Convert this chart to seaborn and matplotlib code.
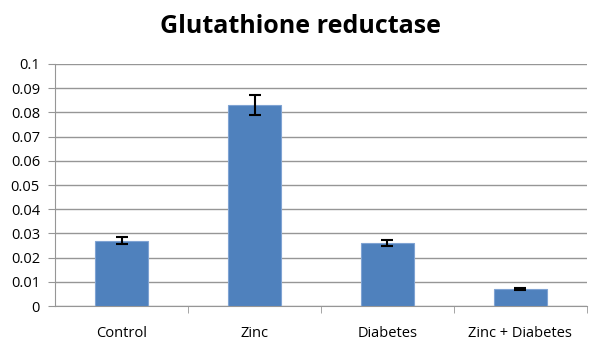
import matplotlib
matplotlib.use("Agg")
import matplotlib.pyplot as plt
import seaborn as sns
import pandas as pd

groups = ["Control", "Zinc", "Diabetes", "Zinc + Diabetes"]
activity = [0.027, 0.083, 0.026, 0.007]
sem = [0.0015, 0.0043, 0.0013, 0.0003]

sns.set_style("white")
plt.rcParams["font.family"] = ["Open Sans", "DejaVu Sans"]
plt.rcParams["text.color"] = "black"
plt.rcParams["xtick.labelcolor"] = "black"
plt.rcParams["ytick.labelcolor"] = "black"

df = pd.DataFrame({"group": groups, "value": activity})

fig = plt.figure(figsize=(6, 3.61), dpi=100)
ax = fig.add_axes([0.092, 0.152, 0.886, 0.671])

sns.barplot(data=df, x="group", y="value", color="#4F81BD", saturation=1, width=0.4,
            edgecolor="#7FA3D3", linewidth=0.8, errorbar=None, ax=ax, zorder=3)
ax.errorbar(range(len(groups)), activity, yerr=sem, fmt="none", ecolor="black",
            elinewidth=1.5, capsize=4, capthick=1.5, zorder=4)

ax.set_ylim(0, 0.1)
ax.set_yticks([i / 100 for i in range(11)])
ax.set_yticklabels(["0"] + [f"{i/100:g}" for i in range(1, 11)], fontsize=10.5)
ax.yaxis.grid(True, color="#969696", linewidth=1, zorder=0)
ax.set_axisbelow(True)
ax.set_xlim(-0.5, 3.5)
ax.set_xticks(range(len(groups)))
ax.set_xticklabels(groups, fontsize=10.5)
ax.tick_params(axis="x", length=0, pad=14)
ax.tick_params(axis="y", length=5, color="#969696", direction="out", left=True, pad=6)
ax.set_xticks([0.5, 1.5, 2.5, 3.5], minor=True)
ax.tick_params(axis="x", which="minor", length=5, color="#969696", direction="out", bottom=True)
ax.set_xlabel("")
ax.set_ylabel("")
for side in ["top", "right"]:
    ax.spines[side].set_visible(False)
ax.spines["left"].set_color("#969696")
ax.spines["bottom"].set_color("#969696")

fig.suptitle("Glutathione reductase", fontsize=18, fontweight="bold", y=0.96, color="black")

fig.savefig("out.png", dpi=100)
